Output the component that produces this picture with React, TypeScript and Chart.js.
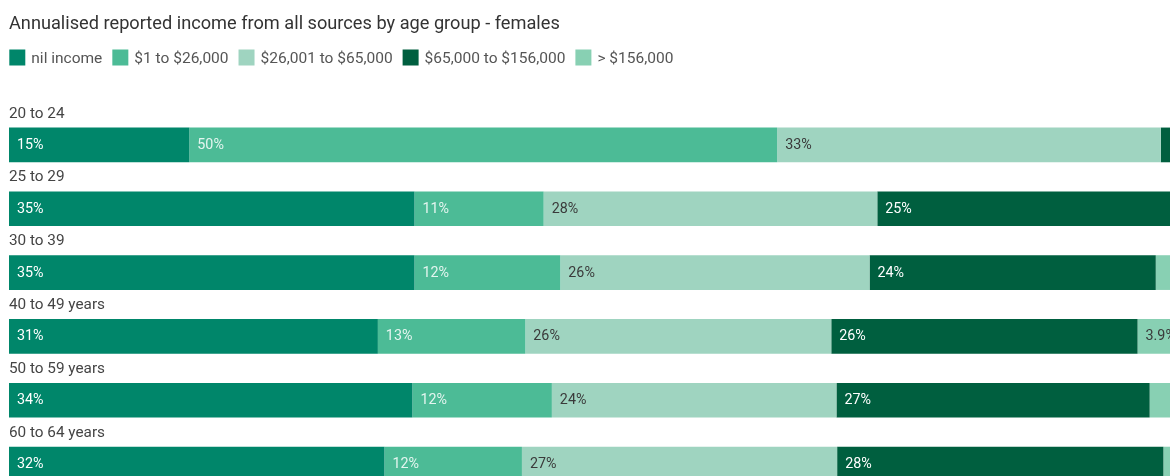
import React, { useEffect, useRef } from "react";
import { Chart, registerables } from "chart.js";

Chart.register(...registerables);

const chartTitle = "Annualised reported income from all sources by age group - females";
const categories = ["20 to 24", "25 to 29", "30 to 39", "40 to 49 years", "50 to 59 years", "60 to 64 years"];
const seriesNames = ["nil income", "$1 to $26,000", "$26,001 to $65,000", "$65,000 to $156,000", "> $156,000"];
const seriesColors = ["#00866a", "#4cbb96", "#9fd4c0", "#005f3f", "#88d0b3"];
const labelColors = ["#ffffff", "rgba(255,255,255,0.85)", "#3a3a3a", "#ffffff", "#3a3a3a"];
const nilIncome = [15.36, 34.54, 34.54, 31.42, 34.36, 31.98];
const upTo26k = [50.07, 11.0, 12.42, 12.56, 11.88, 11.71];
const upTo65k = [32.68, 28.42, 26.34, 26.06, 24.24, 26.85];
const upTo156k = [1.89, 25.4, 24.38, 26.09, 26.68, 27.79];
const over156k = [0, 0.64, 2.32, 3.87, 2.84, 1.67];
const seriesValues = [nilIncome, upTo26k, upTo65k, upTo156k, over156k];

const FONT = "Roboto, 'Noto Sans', sans-serif";

function fmt(v: number): string {
  return v < 10 ? v.toFixed(1) + "%" : Math.round(v) + "%";
}

const headerPlugin = {
  id: "header",
  afterDraw(chart: any) {
    const ctx = chart.ctx;
    ctx.save();
    ctx.textAlign = "left";
    ctx.textBaseline = "alphabetic";
    ctx.fillStyle = "#333333";
    ctx.font = `18.2px ${FONT}`;
    ctx.fillText(chartTitle, 1, 20.5);
    // legend
    ctx.font = `15.5px ${FONT}`;
    let x = 1.3;
    chart.data.datasets.forEach((ds: any) => {
      ctx.fillStyle = ds.backgroundColor;
      ctx.fillRect(x, 41.5, 16, 16);
      x += 16 + 6;
      ctx.fillStyle = "#555555";
      ctx.fillText(ds.label, x, 55);
      x += ctx.measureText(ds.label).width + 10;
    });
    ctx.restore();
  },
};

const barLabelPlugin = {
  id: "barLabels",
  afterDatasetsDraw(chart: any) {
    const ctx = chart.ctx;
    ctx.save();
    ctx.textBaseline = "middle";
    ctx.textAlign = "left";
    // category labels above bars
    const meta0 = chart.getDatasetMeta(0);
    ctx.font = `15.3px ${FONT}`;
    ctx.fillStyle = "#444444";
    meta0.data.forEach((el: any, i: number) => {
      const top = el.y - el.height / 2;
      ctx.fillText(chart.data.labels[i], chart.chartArea.left, top - 13.8);
    });
    // value labels
    ctx.font = `14.3px ${FONT}`;
    chart.data.datasets.forEach((ds: any, di: number) => {
      const meta = chart.getDatasetMeta(di);
      meta.data.forEach((el: any, i: number) => {
        const v = ds.data[i];
        if (v < 3) return;
        const start = Math.min(el.base, el.x);
        ctx.fillStyle = labelColors[di];
        ctx.fillText(fmt(v), start + 8, el.y + 0.5);
      });
    });
    ctx.restore();
  },
};

export default function App() {
  const ref = useRef<HTMLCanvasElement | null>(null);
  useEffect(() => {
    if (!ref.current) return;
    const chart = new Chart(ref.current, {
      type: "bar",
      data: {
        labels: categories,
        datasets: seriesNames.map((name, i) => ({
          label: name,
          data: seriesValues[i],
          backgroundColor: seriesColors[i],
          borderWidth: 0,
          barPercentage: 0.544,
          categoryPercentage: 1,
        })),
      },
      options: {
        indexAxis: "y",
        responsive: false,
        animation: false,
        layout: { padding: { top: 105, left: 1, right: 0, bottom: 0 } },
        scales: {
          x: { stacked: true, min: 0, max: 100, display: false },
          y: { stacked: true, display: false },
        },
        plugins: {
          legend: { display: false },
          title: { display: false },
          tooltip: { enabled: false },
        },
      },
      plugins: [headerPlugin, barLabelPlugin],
    } as any);
    return () => chart.destroy();
  }, []);
  return (
    <div style={{ position: "fixed", left: 0, top: 0, width: 1170, height: 476, overflow: "hidden", background: "#fff" }}>
      <canvas
        ref={ref}
        width={1175}
        height={488}
        style={{ position: "absolute", left: 8, top: 8, width: 1175, height: 488, display: "block" }}
      />
    </div>
  );
}
